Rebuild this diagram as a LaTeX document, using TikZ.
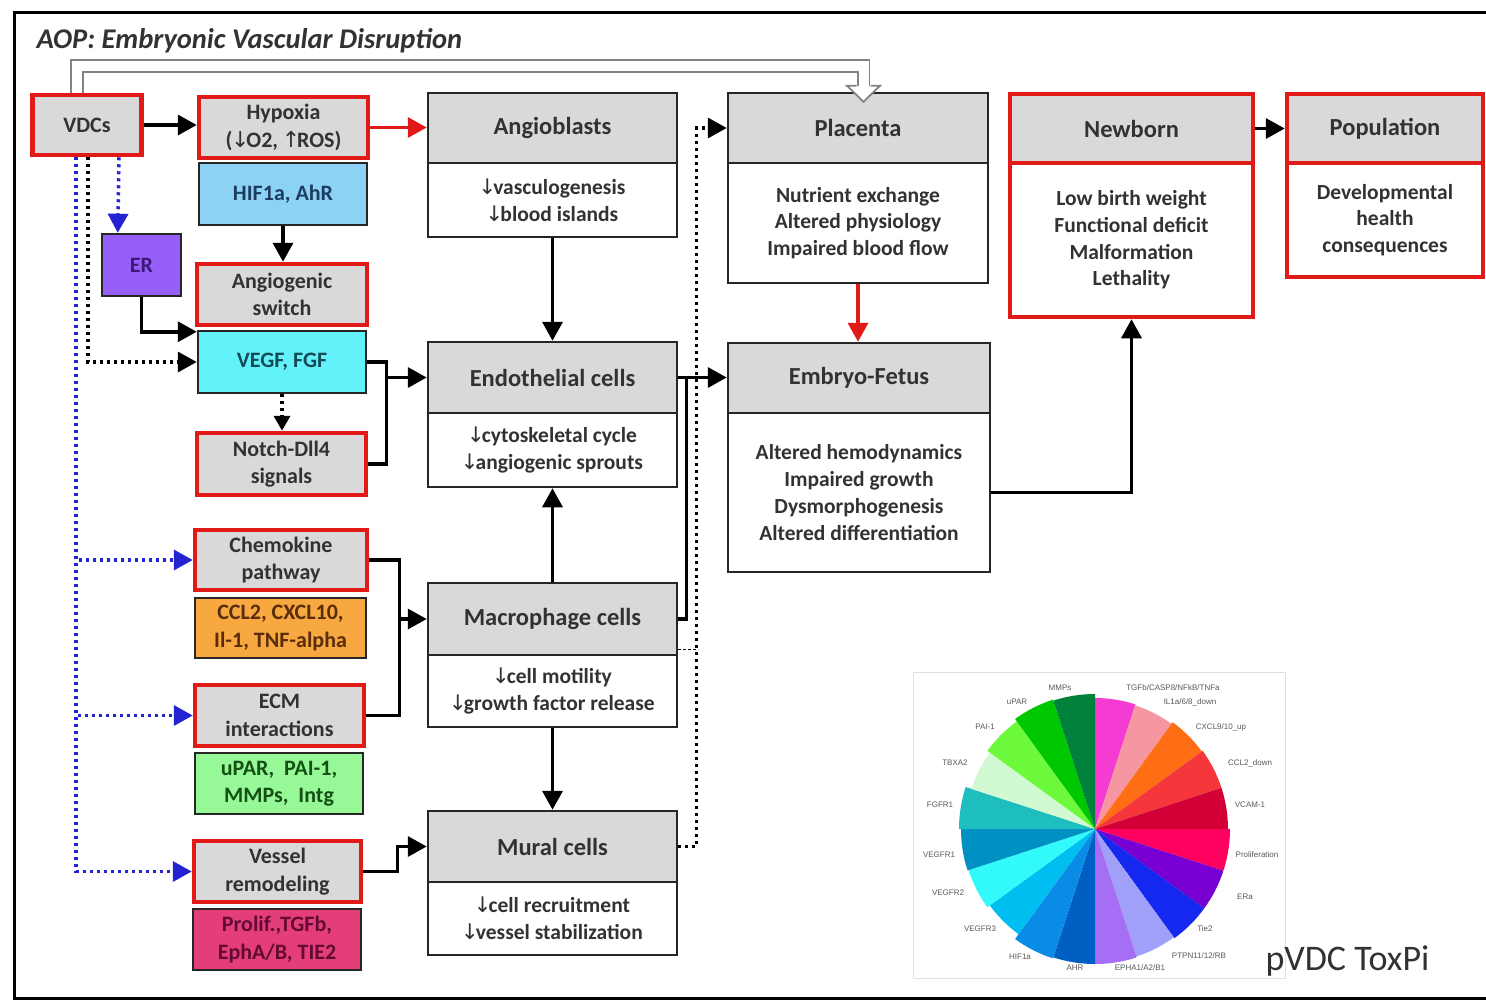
\documentclass[tikz,border=0pt]{standalone}
\usepackage{fontspec}
\setmainfont{Carlito}
\newfontfamily\arrfont{DejaVu Sans}
\newfontfamily\labfont{Liberation Sans}
\usetikzlibrary{arrows.meta,calc}
\definecolor{txt}{RGB}{50,50,50}
\definecolor{boxgray}{RGB}{217,217,217}
\definecolor{redc}{RGB}{225,25,25}
\definecolor{bluec}{RGB}{35,35,210}
\definecolor{dblgray}{RGB}{130,130,130}
\definecolor{hifc}{RGB}{140,210,245}\definecolor{hift}{RGB}{30,60,95}
\definecolor{erc}{RGB}{150,95,250}\definecolor{ert}{RGB}{60,25,120}
\definecolor{vegfc}{RGB}{100,242,250}\definecolor{vegft}{RGB}{20,75,85}
\definecolor{cclc}{RGB}{248,168,64}\definecolor{cclt}{RGB}{90,45,10}
\definecolor{uparc}{RGB}{150,248,150}\definecolor{upart}{RGB}{20,80,20}
\definecolor{prolc}{RGB}{228,62,122}\definecolor{prolt}{RGB}{100,10,50}
\definecolor{pc1}{RGB}{245,60,210}
\definecolor{pc2}{RGB}{245,150,160}
\definecolor{pc3}{RGB}{255,110,20}
\definecolor{pc4}{RGB}{245,55,60}
\definecolor{pc5}{RGB}{210,0,55}
\definecolor{pc6}{RGB}{255,0,95}
\definecolor{pc7}{RGB}{120,0,210}
\definecolor{pc8}{RGB}{20,40,240}
\definecolor{pc9}{RGB}{160,160,250}
\definecolor{pc10}{RGB}{165,110,245}
\definecolor{pc11}{RGB}{0,95,195}
\definecolor{pc12}{RGB}{10,140,230}
\definecolor{pc13}{RGB}{0,190,240}
\definecolor{pc14}{RGB}{50,250,250}
\definecolor{pc15}{RGB}{0,145,195}
\definecolor{pc16}{RGB}{30,190,190}
\definecolor{pc17}{RGB}{210,250,210}
\definecolor{pc18}{RGB}{110,250,60}
\definecolor{pc19}{RGB}{0,200,0}
\definecolor{pc20}{RGB}{0,130,60}
\newcommand{\myDn}{{\arrfont\mdseries\kern-0.06em\char"2193\kern-0.14em}}
\newcommand{\myUp}{{\arrfont\mdseries\kern-0.06em\char"2191\kern-0.14em}}
\begin{document}
\begin{tikzpicture}[x=1pt,y=-1pt,
  every node/.style={text=txt},
  box/.style={rectangle, inner sep=0pt, align=center},
  lftfont/.style={font=\bfseries\fontsize{22}{27.5}\selectfont},
  redbox/.style={box, lftfont, draw=redc, line width=4.5pt, fill=boxgray},
  colbox/.style={box, lftfont, draw=black!85, line width=2.5pt},
  hdr/.style={box, draw=black!85, line width=2.5pt, fill=boxgray, font=\bfseries\fontsize{24.5}{29}\selectfont},
  bdy/.style={box, draw=black!85, line width=2.5pt, fill=white, font=\bfseries\fontsize{21.5}{26.7}\selectfont},
  rhdr/.style={hdr, draw=redc, line width=4.5pt},
  rbdy/.style={bdy, draw=redc, line width=4.5pt},
  conn/.style={draw=black, line width=3.5pt, line join=miter},
  connred/.style={draw=redc, line width=3.5pt},
  kdot/.style={draw=black, line width=3.5pt, dash pattern=on 3pt off 4pt},
  bdot/.style={draw=bluec, line width=3.5pt, dash pattern=on 3pt off 4pt},
  ar/.style={-{Triangle[length=19pt,width=20pt]}},
  plab/.style={font=\labfont\fontsize{8}{9}\selectfont, text=black!65, inner sep=0pt}
]
\useasboundingbox (0,0) rectangle (1486,1005);
\fill[white] (0,0) rectangle (1486,1005);
\clip (0,0) rectangle (1486,1005);
\draw[line width=3pt] (14,12) rectangle (1496,998);

\node[anchor=west, font=\bfseries\itshape\fontsize{28.5}{33}\selectfont] (title) at (33,41) {AOP: Embryonic Vascular Disruption};

% left column
\node[redbox, minimum width=109pt, minimum height=60pt] (vdc) at (87,125) {VDCs};
\node[redbox, minimum width=169pt, minimum height=61pt] (hyp) at (283.5,127.5) {Hypoxia\\(\myDn O2, \myUp ROS)};
\node[colbox, fill=hifc, text=hift, minimum width=168pt, minimum height=62pt] (hif) at (283,194) {HIF1a, AhR};
\node[colbox, fill=erc, text=ert, minimum width=79pt, minimum height=62pt] (er) at (141.5,265) {ER};
\node[redbox, minimum width=170pt, minimum height=61pt] (asw) at (282,294.5) {Angiogenic\\switch};
\node[colbox, fill=vegfc, text=vegft, minimum width=168pt, minimum height=62pt] (vegf) at (282,362) {VEGF, FGF};
\node[redbox, minimum width=169pt, minimum height=62pt] (notch) at (281.5,464) {Notch-Dll4\\signals};
\node[redbox, minimum width=172pt, minimum height=60pt] (chem) at (281,560) {Chemokine\\pathway};
\node[colbox, fill=cclc, text=cclt, minimum width=171pt, minimum height=60pt] (ccl) at (280.5,628) {CCL2, CXCL10,\\Il-1, TNF-alpha};
\node[redbox, minimum width=169pt, minimum height=61pt] (ecm) at (279.5,715.5) {ECM\\interactions};
\node[colbox, fill=uparc, text=upart, minimum width=168pt, minimum height=61pt] (upar) at (279,783.5) {uPAR,~ PAI-1,\\MMPs,~ Intg};
\node[redbox, minimum width=167pt, minimum height=61pt] (ves) at (277.5,871.5) {Vessel\\remodeling};
\node[colbox, fill=prolc, text=prolt, minimum width=168pt, minimum height=61pt] (prol) at (277,939.5) {Prolif.,TGFb,\\EphA/B, TIE2};

% middle column
\node[hdr, minimum width=249pt, minimum height=70pt] (angH) at (552.5,128) {Angioblasts};
\node[bdy, minimum width=249pt, minimum height=74pt] (angB) at (552.5,200) {\myDn vasculogenesis\\\myDn blood islands};
\node[hdr, minimum width=249pt, minimum height=71pt] (endH) at (552.5,377.5) {Endothelial cells};
\node[bdy, minimum width=249pt, minimum height=74pt] (endB) at (552.5,450) {\myDn cytoskeletal cycle\\\myDn angiogenic sprouts};
\node[hdr, minimum width=249pt, minimum height=72pt] (macH) at (552.5,619) {Macrophage cells};
\node[bdy, minimum width=249pt, minimum height=72pt] (macB) at (552.5,691) {\myDn cell motility\\\myDn growth factor release};
\node[hdr, minimum width=249pt, minimum height=71pt] (murH) at (552.5,846.5) {Mural cells};
\node[bdy, minimum width=249pt, minimum height=73pt] (murB) at (552.5,918.5) {\myDn cell recruitment\\\myDn vessel stabilization};

% right side
\node[hdr, minimum width=260pt, minimum height=70pt] (plaH) at (858,128) {Placenta};
\node[bdy, minimum width=260pt, minimum height=120pt] (plaB) at (858,223) {Nutrient exchange\\Altered physiology\\Impaired blood flow};
\node[hdr, minimum width=262pt, minimum height=70pt] (embH) at (859,378) {Embryo-Fetus};
\node[bdy, minimum width=262pt, minimum height=159pt] (embB) at (859,492.5) {Altered hemodynamics\\Impaired growth\\Dysmorphogenesis\\Altered differentiation};
\node[rhdr, minimum width=243pt, minimum height=69pt] (newH) at (1131.5,128.5) {Newborn};
\node[rbdy, minimum width=243pt, minimum height=154pt] (newB) at (1131.5,240) {Low birth weight\\Functional deficit\\Malformation\\Lethality};
\node[rhdr, minimum width=196pt, minimum height=69pt] (popH) at (1385,128.5) {Population};
\node[rbdy, minimum width=196pt, minimum height=114pt] (popB) at (1385,220) {Developmental\\health\\consequences};

% connectors
\draw[conn, ar] (vdc.east) -- (vdc.east -| hyp.west);
\draw[connred, ar] (hyp.east) -- (hyp.east -| angH.west);
\draw[draw=dblgray, line width=1.8pt, double=white, double distance=10pt, line join=miter]
  ($(vdc.north)+(-10,0)$) |- ($(plaH.north)+(5.5,-25.5)$) -- ($(plaH.north)+(5.5,-6)$);
\fill[white] ($(plaH.north)+(-11,-6)$) -- ($(plaH.north)+(22,-6)$) -- ($(plaH.north)+(5.5,10)$) -- cycle;
\draw[draw=dblgray, line width=1.8pt, line join=miter] ($(plaH.north)+(-1.5,-6)$) -- ($(plaH.north)+(-11,-6)$) -- ($(plaH.north)+(5.5,10)$) -- ($(plaH.north)+(22,-6)$) -- ($(plaH.north)+(12.5,-6)$);

\draw[bdot, ar] ($(vdc.south)+(32,0)$) -- ($(er.north west)+(17,0)$);
\draw[kdot, ar] ($(vdc.south)+(1,0)$) |- (vegf.west);
\draw[bdot, ar] ($(vdc.south)+(-11,0)$) |- (ves.west);
\draw[bdot, ar] ($(vdc.south)+(-11,0)$) |- (chem.west);
\draw[bdot, ar] ($(vdc.south)+(-11,0)$) |- (ecm.west);

\draw[conn, ar] (er.south) |- ($(vegf.north west)+(0,2)$);
\draw[conn, ar] (hif.south) -- (hif.south |- asw.north);
\draw[kdot, -{Triangle[length=15pt,width=16pt]}] (vegf.south) -- (vegf.south |- notch.north);

\draw[conn] (vegf.east) -- ++(19,0) coordinate (j1) |- (notch.east);
\draw[conn, ar] (j1 |- endH.west) -- (endH.west);
\draw[conn] (chem.east) -- ++(30,0) coordinate (j2) |- (ecm.east);
\draw[conn, ar] (j2 |- macH.west) -- (macH.west);
\draw[conn, ar] (ves.east) -- ++(34,0) |- (murH.west);

\draw[conn, ar] (angB.south) -- (endH.north);
\draw[conn, ar] (macH.north) -- (endB.south);
\draw[conn, ar] (macB.south) -- (murH.north);

\draw[conn, ar] (endH.east) -- (endH.east -| embH.west);
\draw[conn] (macH.east) -| ($(endH.east)+(8,0)$);
\draw[kdot, ar] (murH.east) -- ++(18,0) |- (plaH.west);
\draw[line width=1pt, dash pattern=on 3pt off 2pt] ($(macH.south east)+(0,-7)$) -- ++(20,0);

\draw[connred, ar] (plaB.south) -- (plaB.south |- embH.north);
\draw[conn, ar] (embB.east) -| (newB.south);
\draw[conn, ar] (newH.east) -- (newH.east -| popH.west);

% ToxPi
\draw[black!12, line width=1pt] (913,672) rectangle (1285,978);
\begin{scope}[shift={(1095,829)}, x=1pt, y=1pt]
\foreach \c/\r [count=\i] in {pc1/131,pc2/130,pc3/132,pc4/133,pc5/133,pc6/135,pc7/135,pc8/135,pc9/134,pc10/135,pc11/135,pc12/136,pc13/130,pc14/133,pc15/134,pc16/136,pc17/130,pc18/133,pc19/136,pc20/135} {
  \pgfmathsetmacro\aa{90-18*(\i-1)}
  \pgfmathsetmacro\bb{90-18*\i}
  \fill[\c] (0,0) -- (\aa:\r pt) arc[start angle=\aa, end angle=\bb, radius=\r pt] -- cycle;
}
\end{scope}
\node[plab] (l1) at (1060,688) {MMPs};
\node[plab] (l2) at (1173,688) {TGFb/CASP8/NFkB/TNFa};
\node[plab] (l3) at (1190,702) {IL1a/6/8\_down};
\node[plab] (l4) at (1221,727) {CXCL9/10\_up};
\node[plab] (l5) at (1250,763) {CCL2\_down};
\node[plab] (l6) at (1250,805) {VCAM-1};
\node[plab] (l7) at (1257,855) {Proliferation};
\node[plab] (l8) at (1245,897) {ERa};
\node[plab] (l9) at (1205,929) {Tie2};
\node[plab] (l10) at (1199,956) {PTPN11/12/RB};
\node[plab] (l11) at (1140,968) {EPHA1/A2/B1};
\node[plab] (l12) at (1075,968) {AHR};
\node[plab] (l13) at (1020,957) {HIF1a};
\node[plab] (l14) at (980,929) {VEGFR3};
\node[plab] (l15) at (948,893) {VEGFR2};
\node[plab] (l16) at (939,855) {VEGFR1};
\node[plab] (l17) at (940,805) {FGFR1};
\node[plab] (l18) at (955,763) {TBXA2};
\node[plab] (l19) at (985,727) {PAI-1};
\node[plab] (l20) at (1017,702) {uPAR};
\node[anchor=west, font=\fontsize{36}{40}\selectfont] (toxpi) at (1262,961) {pVDC ToxPi};
\end{tikzpicture}
\end{document}
